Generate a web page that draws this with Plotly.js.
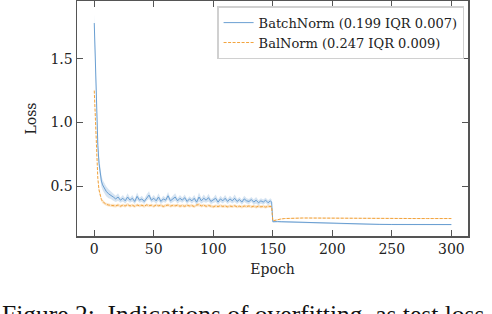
<!DOCTYPE html>
<html>
<head>
<meta charset="utf-8">
<script src="https://cdn.plot.ly/plotly-3.0.1.min.js"></script>
<style>
html,body{margin:0;padding:0;background:#fff;}
#chart{width:492px;height:314px;}
</style>
</head>
<body>
<div id="chart"></div>
<script>
const epochs = [0,1,2,3,4,5,6,7,8,9,
10,12,14,16,18,20,22,24,26,28,
30,32,34,36,38,40,42,44,46,48,
50,52,54,56,58,60,62,64,66,68,
70,72,74,76,78,80,82,84,86,88,
90,92,94,96,98,100,102,104,106,108,
110,112,114,116,118,120,122,124,126,128,
130,132,134,136,138,140,142,144,146,148,
149,150,151,152,154,157,160,165,170,175,180,190,200,210,220,230,240,250,260,270,280,290,300];

const batchNorm = [1.78,1.40,1.05,0.82,0.68,0.59,0.54,0.51,0.49,0.47,
0.46,0.44,0.43,0.415,0.40,0.415,0.39,0.405,0.385,0.415,
0.39,0.405,0.38,0.42,0.39,0.40,0.38,0.41,0.43,0.39,
0.405,0.385,0.415,0.38,0.40,0.39,0.425,0.385,0.40,0.415,
0.385,0.405,0.39,0.41,0.38,0.40,0.385,0.405,0.375,0.415,
0.385,0.405,0.39,0.41,0.38,0.39,0.405,0.375,0.40,0.385,
0.405,0.38,0.40,0.385,0.405,0.38,0.395,0.375,0.40,0.385,
0.38,0.395,0.375,0.39,0.37,0.385,0.375,0.39,0.37,0.385,
0.375,0.221,0.222,0.222,0.222,0.221,0.220,0.219,0.217,0.215,0.213,0.210,0.207,0.205,0.203,0.201,0.200,0.199,0.199,0.199,0.199,0.199,0.199];

const batchNormSpread = [0.07,0.06,0.05,0.05,0.05,0.05,0.045,0.04,0.04,0.04,
0.04,0.035,0.03,0.03,0.025,0.03,0.02,0.025,0.02,0.03,
0.02,0.025,0.02,0.03,0.02,0.025,0.02,0.025,0.03,0.02,
0.025,0.02,0.03,0.02,0.025,0.02,0.03,0.02,0.025,0.03,
0.02,0.025,0.02,0.025,0.02,0.02,0.02,0.025,0.02,0.035,
0.02,0.03,0.02,0.03,0.02,0.02,0.03,0.02,0.025,0.02,
0.025,0.02,0.025,0.02,0.03,0.02,0.02,0.02,0.025,0.02,
0.02,0.02,0.02,0.025,0.02,0.02,0.02,0.02,0.02,0.02,
0.02,0.006,0.006,0.006,0.006,0.006,0.006,0.005,0.005,0.005,0.005,0.005,0.005,0.005,0.005,0.005,0.005,0.005,0.005,0.005,0.005,0.005,0.005];

const balNorm = [1.25,0.98,0.72,0.56,0.47,0.42,0.395,0.38,0.37,0.362,
0.358,0.352,0.348,0.35,0.345,0.352,0.343,0.35,0.345,0.355,
0.345,0.35,0.342,0.352,0.346,0.35,0.343,0.353,0.347,0.35,
0.342,0.352,0.346,0.35,0.341,0.348,0.352,0.344,0.349,0.346,
0.351,0.343,0.348,0.342,0.35,0.345,0.348,0.34,0.352,0.355,
0.345,0.35,0.342,0.348,0.344,0.338,0.345,0.34,0.347,0.341,
0.345,0.338,0.344,0.34,0.346,0.338,0.343,0.337,0.344,0.34,
0.345,0.338,0.342,0.336,0.343,0.338,0.341,0.336,0.342,0.337,
0.34,0.228,0.231,0.234,0.238,0.243,0.246,0.249,0.250,0.250,0.250,0.249,0.248,0.248,0.247,0.247,0.246,0.246,0.246,0.246,0.246,0.246,0.246];

const balNormSpread = [0.03,0.03,0.025,0.02,0.02,0.015,0.015,0.015,0.012,0.012,
0.012,0.012,0.012,0.012,0.012,0.012,0.012,0.012,0.012,0.012,
0.012,0.012,0.012,0.012,0.012,0.012,0.012,0.012,0.012,0.012,
0.012,0.012,0.012,0.012,0.012,0.012,0.012,0.012,0.012,0.012,
0.012,0.012,0.012,0.012,0.012,0.012,0.012,0.012,0.012,0.015,
0.012,0.012,0.012,0.012,0.012,0.012,0.012,0.012,0.012,0.012,
0.012,0.012,0.012,0.012,0.012,0.012,0.012,0.012,0.012,0.012,
0.012,0.012,0.012,0.012,0.012,0.012,0.012,0.012,0.012,0.012,
0.012,0.004,0.004,0.004,0.004,0.004,0.004,0.004,0.004,0.004,0.004,0.004,0.004,0.004,0.004,0.004,0.004,0.004,0.004,0.004,0.004,0.004,0.004];

const seriesNames = ['BatchNorm (0.199 IQR 0.007)', 'BalNorm (0.247 IQR 0.009)'];
const xTicks = [0,50,100,150,200,250,300];
const yTicks = [0.5,1.0,1.5];
const yTickText = ['0.5','1.0','1.5'];
const captionText = 'Figure 2:  Indications of overfitting, as test loss';

const blue = '#6a9fd2';
const orange = '#f2a33c';

function band(y, s, color, fillColor) {
  const lo = y.map((v,i)=>v - s[i]);
  const hi = y.map((v,i)=>v + s[i]);
  return [
    {x: epochs, y: lo, mode:'lines', line:{width:0, color:color}, showlegend:false, hoverinfo:'skip'},
    {x: epochs, y: hi, mode:'lines', line:{width:0, color:color}, fill:'tonexty', fillcolor:fillColor, showlegend:false, hoverinfo:'skip'}
  ];
}

const traces = [
  ...band(batchNorm, batchNormSpread, blue, 'rgba(106,159,210,0.28)'),
  ...band(balNorm, balNormSpread, orange, 'rgba(242,163,60,0.28)'),
  {x: epochs, y: batchNorm, mode:'lines', name: seriesNames[0], line:{color:blue, width:1}},
  {x: epochs, y: balNorm, mode:'lines', name: seriesNames[1], line:{color:orange, width:1, dash:'3px,1.5px'}}
];

const axisCommon = {
  showline:true, linecolor:'#555', linewidth:1.5, mirror:'ticks',
  ticks:'inside', ticklen:6, tickwidth:1, tickcolor:'#555',
  showgrid:false, zeroline:false,
  tickfont:{family:'DejaVu Serif', size:14, color:'#222'}
};

const layout = {
  width:492, height:314,
  margin:{l:77, r:24, t:1, b:78},
  paper_bgcolor:'#fff', plot_bgcolor:'#fff',
  font:{family:'DejaVu Serif', color:'#222'},
  xaxis: Object.assign({}, axisCommon, {
    range:[-14.5, 314], tickvals:xTicks,
    title:{text:'Epoch', font:{family:'DejaVu Serif', size:14, color:'#222'}, standoff:8}
  }),
  yaxis: Object.assign({}, axisCommon, {
    range:[0.109, 1.953], tickvals:yTicks, ticktext:yTickText,
    title:{text:'Loss', font:{family:'DejaVu Serif', size:14, color:'#222'}, standoff:10}
  }),
  legend:{
    x:0.99, y:0.978, xanchor:'right', yanchor:'top', traceorder:'normal',
    bgcolor:'#fff', bordercolor:'#d0d0d0', borderwidth:1.5,
    font:{family:'DejaVu Serif', size:13, color:'#222'},
    tracegroupgap:0, itemwidth:30
  },
  annotations:[{
    text: captionText, xref:'paper', yref:'paper',
    x:-0.197, y:-0.262, xanchor:'left', yanchor:'top', showarrow:false,
    font:{family:'Liberation Serif', size:25.5, color:'#111'}
  }],
  showlegend:true
};

Plotly.newPlot('chart', traces, layout, {displayModeBar:false, staticPlot:true});
</script>
</body>
</html>
